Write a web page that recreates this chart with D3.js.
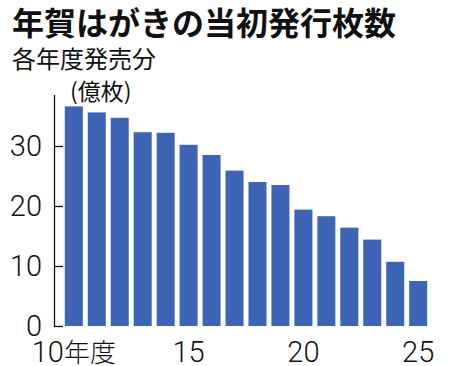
<!DOCTYPE html>
<html><head><meta charset="utf-8">
<script src="https://d3js.org/d3.v7.min.js"></script>
<style>
html,body{margin:0;padding:0;background:#fff;}
svg{display:block;}
text{font-family:"Noto Sans CJK JP","Noto Sans",sans-serif;fill:#111;}
.num{font-family:Roboto,"Liberation Sans",sans-serif;font-weight:300;}
</style></head>
<body>
<script>
const years = [2010,2011,2012,2013,2014,2015,2016,2017,2018,2019,2020,2021,2022,2023,2024,2025];
const values = [36.6,35.6,34.7,32.3,32.2,30.2,28.5,25.9,24.0,23.5,19.4,18.3,16.4,14.4,10.7,7.5];
const yTicks = [0,10,20,30];
const xTickLabels = {2010:["10","年度"],2015:["15"],2020:["20"],2025:["25"]};
const title = "年賀はがきの当初発行枚数";
const subtitle = "各年度発売分";
const unit = "(億枚)";

const W=467,H=366;
const svg=d3.select("body").append("svg").attr("width",W).attr("height",H);

const x=d3.scaleBand().domain(years).range([62.5,429.5]).paddingInner(0.215).paddingOuter(0.1);
const y=d3.scaleLinear().domain([0,30]).range([326,146]);

svg.append("text").attr("x",12).attr("y",35).attr("font-size",32).attr("font-weight",700).text(title);
svg.append("text").attr("x",12).attr("y",68).attr("font-size",24).attr("font-weight",400).text(subtitle);
svg.append("text").attr("x",70).attr("y",100).attr("font-size",23).text(unit);

svg.append("g").selectAll("rect").data(values).join("rect")
  .attr("x",(d,i)=>x(years[i])).attr("width",x.bandwidth())
  .attr("y",d=>y(d)).attr("height",d=>y(0)-y(d))
  .attr("fill","#3D64B5");

svg.append("line").attr("x1",54.5).attr("x2",54.5).attr("y1",95).attr("y2",326.5).attr("stroke","#111").attr("stroke-width",1.3);
const yt=svg.append("g");
yt.selectAll("line").data(yTicks).join("line")
  .attr("x1",54).attr("x2",63).attr("y1",d=>Math.round(y(d))+0.5).attr("y2",d=>Math.round(y(d))+0.5)
  .attr("stroke","#111").attr("stroke-width",1.3);
yt.selectAll("text").data(yTicks).join("text").attr("class","num")
  .attr("x",42).attr("y",d=>y(d)+10).attr("text-anchor","end").attr("font-size",29)
  .text(d=>d);

const xl=svg.append("g").selectAll("text").data(years.filter(d=>xTickLabels[d])).join("text")
  .attr("x",d=>x(d)+x.bandwidth()/2).attr("y",362).attr("text-anchor","middle");
xl.each(function(d){
  const t=d3.select(this);
  const parts=xTickLabels[d];
  t.append("tspan").attr("class","num").attr("font-size",29).text(parts[0]);
  if(parts[1]) t.append("tspan").attr("font-size",26).attr("font-weight",300).text(parts[1]);
});
</script>
</body></html>
